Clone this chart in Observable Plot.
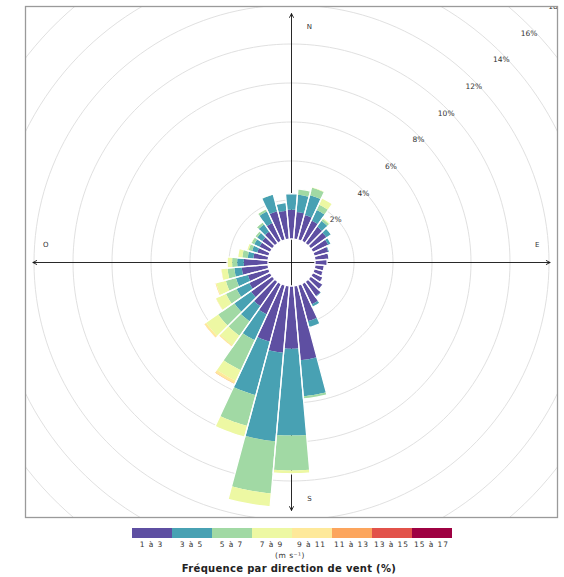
<!DOCTYPE html>
<html><head><meta charset="utf-8">
<script src="https://cdn.jsdelivr.net/npm/d3@7"></script>
<script src="https://cdn.jsdelivr.net/npm/@observablehq/plot@0.6"></script>
<style>
body{margin:0;background:#fff;font-family:"DejaVu Sans",sans-serif;}
#wrap{position:relative;width:564px;height:577px;overflow:hidden;}
#chart svg{display:block;}
.lg-box{position:absolute;top:528px;height:10px;}
.lg-lab{position:absolute;top:540px;width:40px;text-align:center;font-size:7.5px;letter-spacing:0.9px;color:#333;white-space:nowrap;}
#unit{position:absolute;top:551px;left:0;width:580px;text-align:center;font-size:7.5px;color:#333;letter-spacing:0.5px;}
#title{position:absolute;top:563px;left:0;width:578px;text-align:center;font-size:10px;font-weight:bold;color:#222;letter-spacing:0.3px;}
</style></head><body>
<div id="wrap"><div id="chart"></div></div>
<script>
// ---- data (percent of time, by direction and speed class) ----
const directions = [0,10,20,30,40,50,60,70,80,90,100,110,120,130,140,150,160,170,180,190,200,210,220,230,240,250,260,270,280,290,300,310,320,330,340,350];
const speedClasses = ["1 à 3","3 à 5","5 à 7","7 à 9","9 à 11","11 à 13","13 à 15","15 à 17"];
const classColors = ["#5E4FA2","#48A1B3","#A1D9A4","#EDF8A3","#FEE99A","#FCA55D","#E2524A","#9E0142"];
const freq1to3 = [1.50,1.40,1.32,1.18,1.05,1.00,0.88,0.75,0.70,0.62,0.48,0.48,0.58,0.75,0.92,1.18,1.92,3.83,3.22,3.44,3.00,1.74,1.55,1.35,1.20,1.12,1.36,1.24,0.76,0.62,0.62,0.65,0.75,1.05,1.52,1.46];
const freq3to5 = [0.82,0.88,1.05,0.60,0.37,0.28,0.16,0.07,0.03,0,0,0,0,0.02,0.06,0.15,0.33,1.85,4.45,4.56,2.84,1.46,0.95,1.05,0.72,0.63,0.38,0.34,0.29,0.28,0.30,0.32,0.45,0.65,0.88,0.42];
const freq5to7 = [0,0.30,0.40,0.30,0.12,0.02,0,0,0,0,0,0,0,0,0,0,0,0.14,1.79,2.68,1.64,1.70,0.90,1.00,0.60,0.54,0.35,0.26,0.28,0.18,0.15,0.12,0.13,0.12,0.03,0];
const freq7to9 = [0,0,0.05,0.38,0.08,0,0,0,0,0,0,0,0,0,0,0,0,0,0.17,0.69,0.59,0.60,0.60,0.75,0.55,0.50,0.30,0.24,0.24,0.10,0.05,0.02,0.02,0.03,0,0];
const freq9to11 = [0,0,0,0,0,0,0,0,0,0,0,0,0,0,0,0,0,0,0,0,0,0.15,0.08,0.12,0.05,0.06,0.05,0.02,0,0,0,0,0,0,0,0];
const freq11to13 = [0,0,0,0,0,0,0,0,0,0,0,0,0,0,0,0,0,0,0,0,0,0.05,0.02,0.03,0,0.02,0,0,0,0,0,0,0,0,0,0];
const freq13to15 = [0,0,0,0,0,0,0,0,0,0,0,0,0,0,0,0,0,0,0,0,0,0,0,0,0,0,0,0,0,0,0,0,0,0,0,0];
const freq15to17 = [0,0,0,0,0,0,0,0,0,0,0,0,0,0,0,0,0,0,0,0,0,0,0,0,0,0,0,0,0,0,0,0,0,0,0,0];
const ringTicks = [2,4,6,8,10,12,14,16,18];
const compassLabels = ["N","E","S","O"];
const compassAngles = [0,90,180,270];

// ---- layout ----
const W = 564, H = 520;
const cx = 291, cy = 262, ppu = 19.5;      // centre pixel, pixels per percent
const mL = 25, mR = 7, mT = 6, mB = 3;
const hole = 23.5 / ppu;                    // empty centre radius (in % units)
const sectorWidth = 10;
const series = [freq1to3,freq3to5,freq5to7,freq7to9,freq9to11,freq11to13,freq13to15,freq15to17];

const rad = a => a * Math.PI / 180;
const pt = (r, a) => ({x: r * Math.sin(rad(a)), y: r * Math.cos(rad(a))});

function arc(r, a0, a1, n) {
  const out = [];
  for (let j = 0; j <= n; j++) out.push(pt(r, a0 + (a1 - a0) * j / n));
  return out;
}

const segments = [];
const outlines = [];
directions.forEach((d, i) => {
  const a0 = d - sectorWidth / 2, a1 = d + sectorWidth / 2;
  let acc = 0;
  series.forEach((s, k) => {
    const v = s[i];
    if (v > 0) {
      const r0 = hole + acc, r1 = hole + acc + v;
      const id = d + "-" + k;
      const poly = arc(r0, a0, a1, 8).concat(arc(r1, a1, a0, 8));
      poly.forEach(p => segments.push({...p, id, cls: speedClasses[k]}));
    }
    acc += v;
  });
  const poly = arc(hole, a0, a1, 8).concat(arc(hole + acc, a1, a0, 8));
  poly.push(poly[0]);
  poly.forEach(p => outlines.push({...p, id: d}));
});

const circles = [];
ringTicks.forEach(t => arc(hole + t, 0, 360, 180).forEach(p => circles.push({...p, t})));

const xDom = [(mL - cx) / ppu, (W - mR - cx) / ppu];
const yDom = [(cy - (H - mB)) / ppu, (cy - mT) / ppu];
const axisK = 0.972;
const axes = [
  {x1: 0, y1: 0, x2: 0, y2: yDom[1] * axisK},
  {x1: 0, y1: 0, x2: 0, y2: yDom[0] * axisK},
  {x1: 0, y1: 0, x2: xDom[1] * axisK, y2: 0},
  {x1: 0, y1: 0, x2: xDom[0] * axisK, y2: 0}
];
const labelAngle = 46, labelK = 0.984;
const compass = compassLabels.map((l, i) => {
  const a = compassAngles[i];
  const vert = a % 180 === 0;
  const r = vert ? 12.1 : 12.6;
  const p = pt(r, a);
  return {l, x: p.x + (vert ? 0.92 : 0), y: p.y + (vert ? 0 : 0.92)};
});

const chart = Plot.plot({
  width: W, height: H,
  marginLeft: mL, marginRight: mR, marginTop: mT, marginBottom: mB,
  x: {domain: xDom, axis: null},
  y: {domain: yDom, axis: null},
  color: {domain: speedClasses, range: classColors},
  style: {fontFamily: "DejaVu Sans, sans-serif", background: "white"},
  marks: [
    Plot.line(circles, {x: "x", y: "y", z: "t", stroke: "#dcdcdc", strokeWidth: 0.9, clip: true}),
    Plot.arrow(axes, {x1: "x1", y1: "y1", x2: "x2", y2: "y2", stroke: "#111", strokeWidth: 0.9, headLength: 7, headAngle: 55}),
    Plot.line(segments, {x: "x", y: "y", z: "id", fill: "cls", stroke: null, curve: "linear"}),
    Plot.line(outlines, {x: "x", y: "y", z: "id", stroke: "white", strokeWidth: 1.3}),
    Plot.text(ringTicks, {
      x: t => (hole + t) * labelK * Math.sin(rad(labelAngle)),
      y: t => (hole + t) * labelK * Math.cos(rad(labelAngle)),
      text: t => t + "%", fontSize: 7.5, fill: "#333", clip: true
    }),
    Plot.text(compass, {x: "x", y: "y", text: "l", fontSize: 7, fill: "#333"}),
    Plot.frame({stroke: "#9a9a9a", strokeWidth: 1.3})
  ]
});
document.getElementById("chart").appendChild(chart);

// ---- legend below the plot ----
const wrap = document.getElementById("wrap");
const lgLeft = 131.5, lgBox = 40;
speedClasses.forEach((c, i) => {
  const b = document.createElement("div");
  b.className = "lg-box";
  b.style.left = (lgLeft + i * lgBox) + "px";
  b.style.width = lgBox + "px";
  b.style.background = classColors[i];
  wrap.appendChild(b);
  const t = document.createElement("div");
  t.className = "lg-lab";
  t.style.left = (lgLeft + i * lgBox) + "px";
  t.textContent = c;
  wrap.appendChild(t);
});
const unit = document.createElement("div");
unit.id = "unit"; unit.textContent = "(m s⁻¹)";
wrap.appendChild(unit);
const title = document.createElement("div");
title.id = "title"; title.textContent = "Fréquence par direction de vent (%)";
wrap.appendChild(title);
</script>
</body></html>
